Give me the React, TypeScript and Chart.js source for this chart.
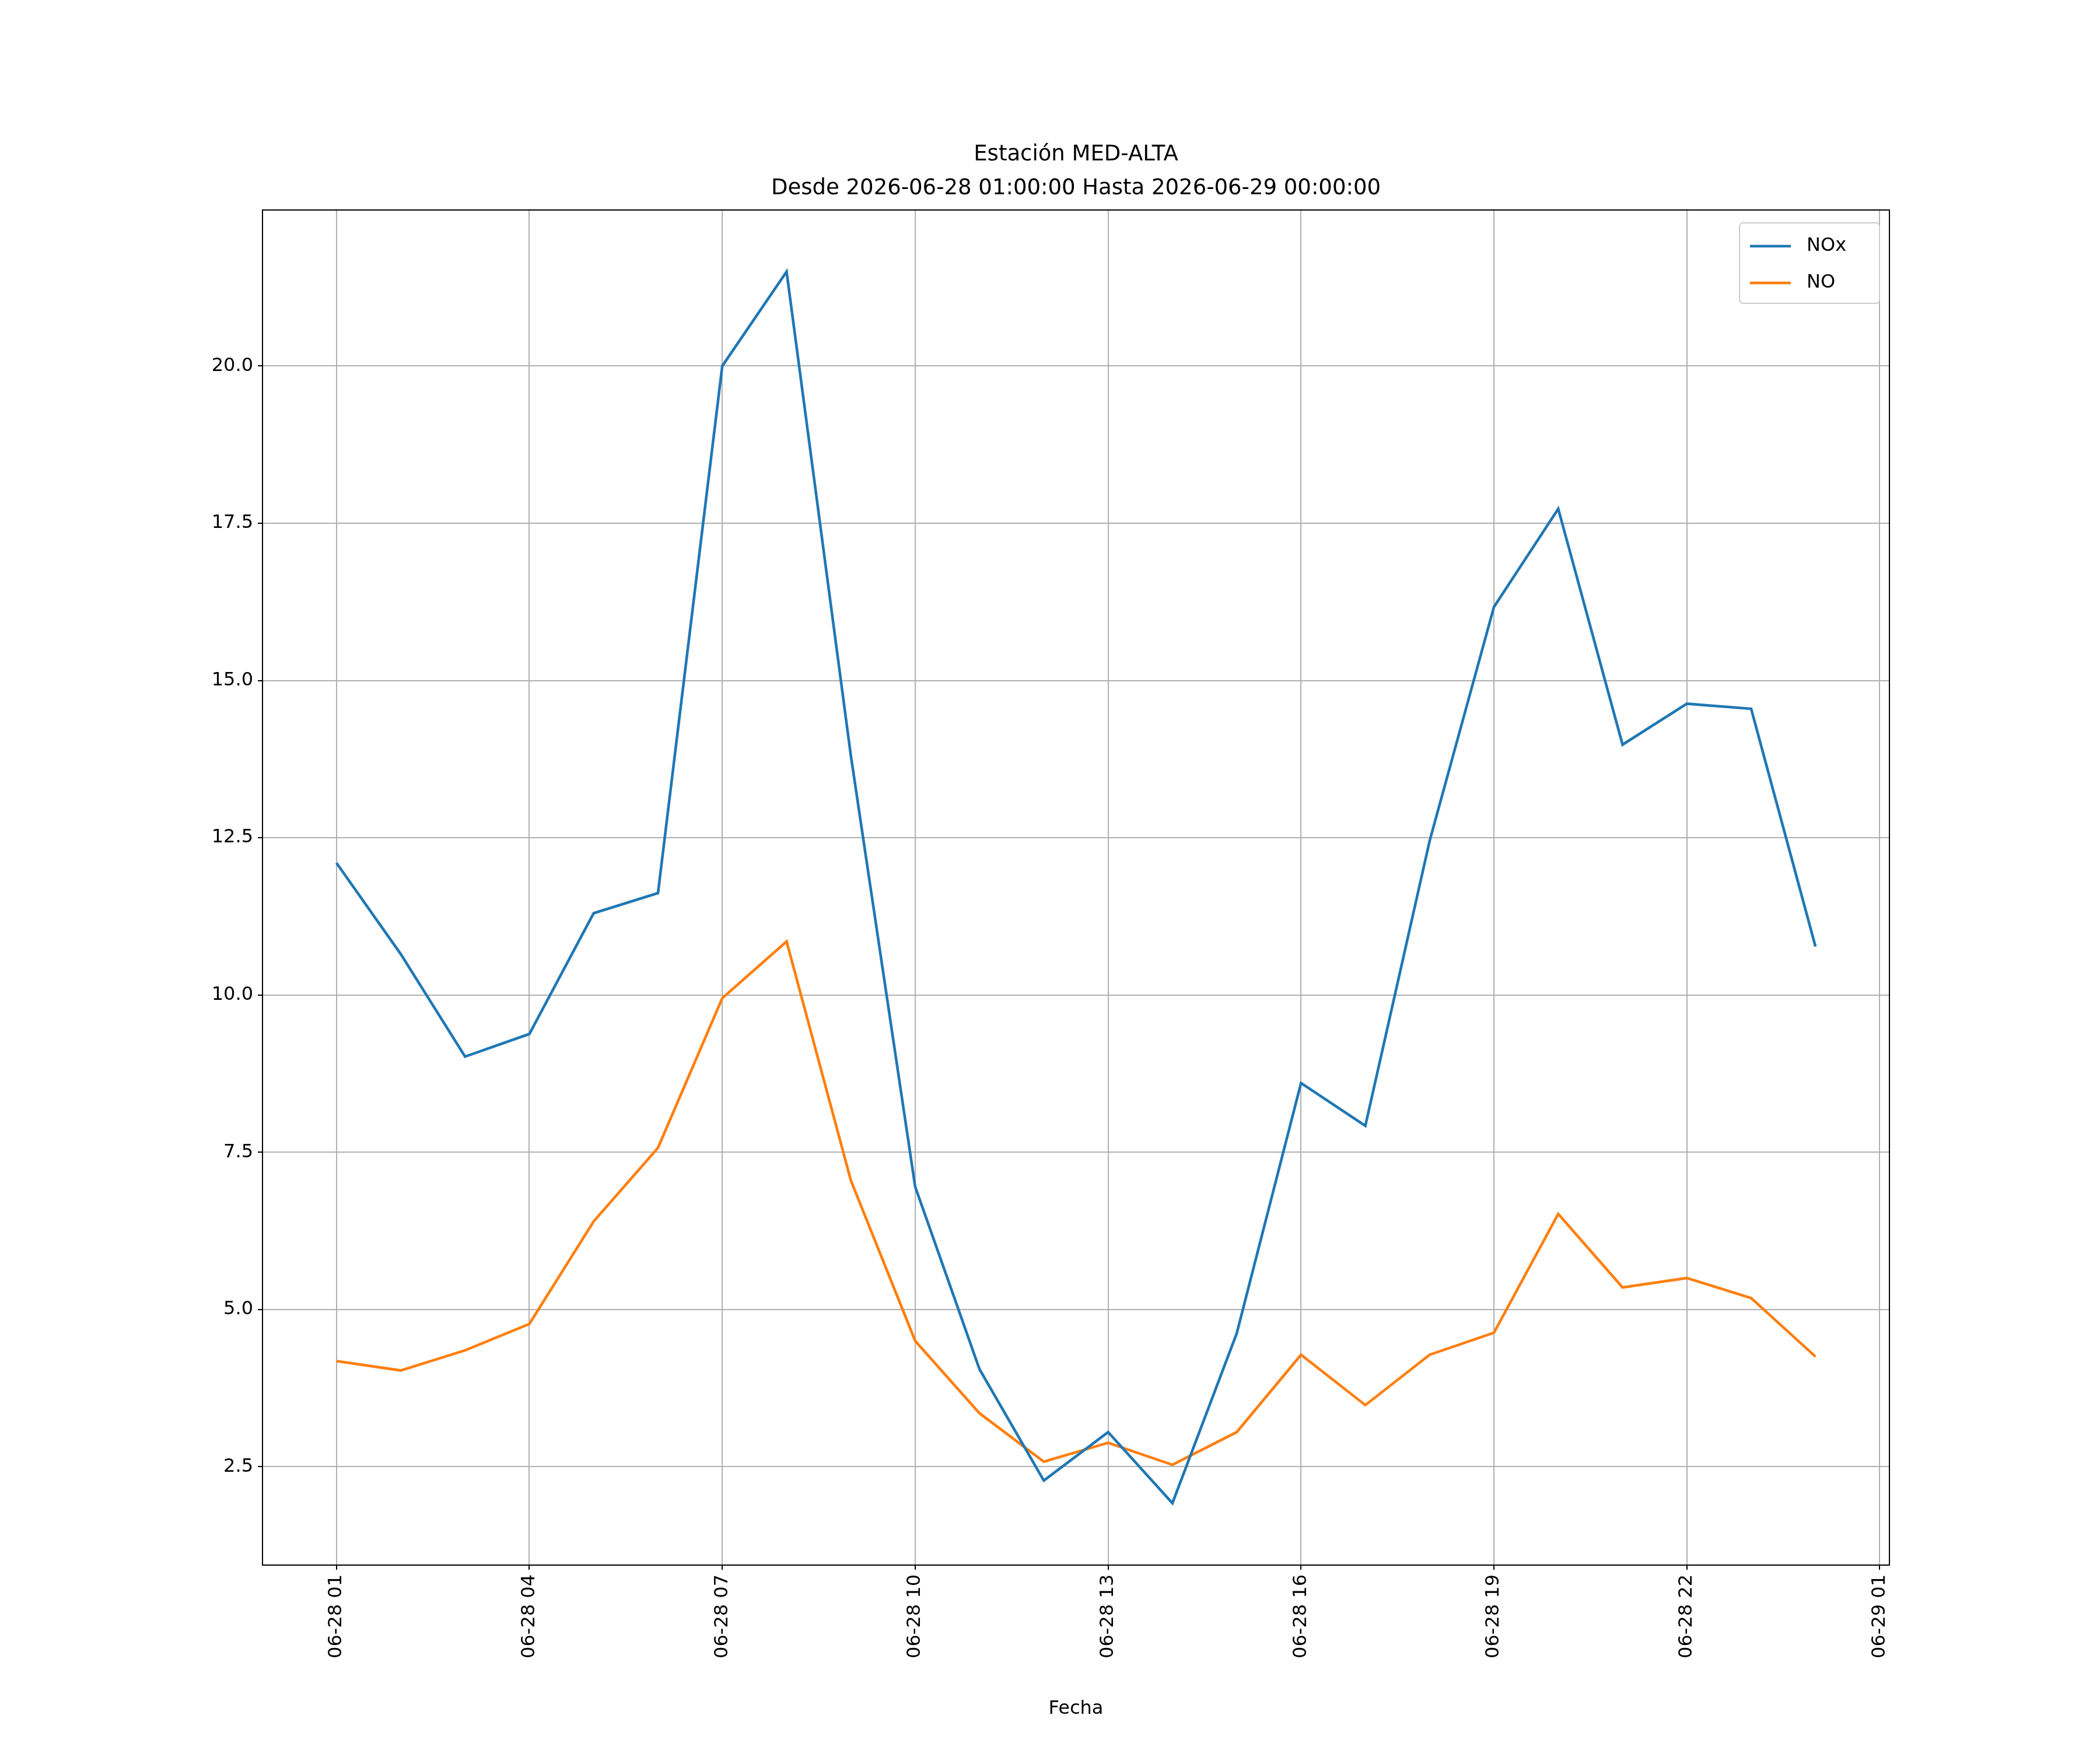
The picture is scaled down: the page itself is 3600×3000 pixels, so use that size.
import React, { useEffect, useRef } from "react";
import { Chart, registerables } from "chart.js";
Chart.register(...registerables);

const hours = [0,1,2,3,4,5,6,7,8,9,10,11,12,13,14,15,16,17,18,19,20,21,22,23];
const nox = [12.1,10.65,9.02,9.38,11.3,11.62,20.0,21.5,13.8,6.95,4.05,2.28,3.05,1.92,4.62,8.6,7.92,12.45,16.17,17.73,13.98,14.63,14.55,10.77];
const no = [4.18,4.03,4.35,4.77,6.4,7.57,9.95,10.85,7.05,4.5,3.35,2.58,2.88,2.53,3.05,4.28,3.48,4.28,4.63,6.52,5.35,5.5,5.18,4.25];
const xTickLabels = ["06-28 01","06-28 04","06-28 07","06-28 10","06-28 13","06-28 16","06-28 19","06-28 22","06-29 01"];
const yTicks = [2.5,5,7.5,10,12.5,15,17.5,20];
const seriesNames = ["NOx","NO"];
const titleLines = ["Estación MED-ALTA","Desde 2026-06-28 01:00:00 Hasta 2026-06-29 00:00:00"];

const FONT = "'DejaVu Sans', sans-serif";

export default function App() {
  const ref = useRef<HTMLCanvasElement>(null);
  useEffect(() => {
    const deco = {
      id: "deco",
      afterDraw(chart: any) {
        const ctx = chart.ctx;
        const a = chart.chartArea;
        ctx.save();
        ctx.fillStyle = "#000";
        ctx.textAlign = "center";
        ctx.textBaseline = "alphabetic";
        ctx.font = `37px ${FONT}`;
        const cx = (a.left + a.right) / 2;
        ctx.fillText(titleLines[0], cx, 267);
        ctx.fillText(titleLines[1], cx, 325);
        ctx.font = `32px ${FONT}`;
        ctx.fillText("Fecha", cx, 2930);
        // legend
        const lx = 2974, ly = 374, lw = 240, lh = 138;
        ctx.fillStyle = "rgba(255,255,255,0.8)";
        ctx.strokeStyle = "#cccccc";
        ctx.lineWidth = 2;
        ctx.beginPath();
        ctx.roundRect(lx, ly, lw, lh, 6);
        ctx.fill();
        ctx.stroke();
        const cols = ["#1f77b4", "#ff7f0e"];
        ctx.textAlign = "left";
        ctx.textBaseline = "middle";
        ctx.font = `32px ${FONT}`;
        for (let i = 0; i < 2; i++) {
          const y = ly + 40 + i * 63;
          ctx.strokeStyle = cols[i];
          ctx.lineWidth = 4.6;
          ctx.beginPath();
          ctx.moveTo(lx + 18, y);
          ctx.lineTo(lx + 88, y);
          ctx.stroke();
          ctx.fillStyle = "#000";
          ctx.fillText(seriesNames[i], lx + 115, y);
        }
        ctx.strokeStyle = "#000";
        ctx.lineWidth = 2;
        ctx.strokeRect(a.left, a.top, a.right - a.left, a.bottom - a.top);
        ctx.restore();
      },
    };
    const chart = new Chart(ref.current!, {
      type: "line",
      data: {
        datasets: [
          { label: seriesNames[0], data: hours.map((h, i) => ({ x: h, y: nox[i] })), borderColor: "#1f77b4", borderWidth: 4.6, pointRadius: 0, tension: 0 },
          { label: seriesNames[1], data: hours.map((h, i) => ({ x: h, y: no[i] })), borderColor: "#ff7f0e", borderWidth: 4.6, pointRadius: 0, tension: 0 },
        ],
      },
      options: {
        animation: false,
        responsive: false,
        devicePixelRatio: 1,
        layout: { padding: { top: 352, right: 369, left: 0, bottom: 0 } },
        plugins: { legend: { display: false }, title: { display: false }, tooltip: { enabled: false } },
        scales: {
          x: {
            type: "linear",
            min: -1.15,
            max: 24.15,
            afterBuildTicks: (s: any) => { s.ticks = xTickLabels.map((_, i) => ({ value: i * 3 })); },
            afterFit: (s: any) => { s.height = 325; },
            ticks: {
              autoSkip: false,
              minRotation: 90,
              maxRotation: 90,
              color: "#000",
              font: { family: FONT, size: 32 },
              padding: 8,
              callback: (v: any) => xTickLabels[Math.round(Number(v) / 3)],
            },
            grid: { color: "#b0b0b0", lineWidth: 2, tickColor: "#000", tickLength: 8 },
            border: { color: "#000", width: 2 },
          },
          y: {
            min: 0.936,
            max: 22.48,
            afterBuildTicks: (s: any) => { s.ticks = yTicks.map((v) => ({ value: v })); },
            afterFit: (s: any) => { s.width = 442; },
            ticks: {
              color: "#000",
              font: { family: FONT, size: 32 },
              padding: 8,
              callback: (v: any) => Number(v).toFixed(1),
            },
            grid: { color: "#b0b0b0", lineWidth: 2, tickColor: "#000", tickLength: 8 },
            border: { color: "#000", width: 2 },
          },
        },
      },
      plugins: [deco],
    });
    return () => chart.destroy();
  }, []);
  return <canvas ref={ref} width={3600} height={3000} style={{ width: 3600, height: 3000, display: "block" }} />;
}
